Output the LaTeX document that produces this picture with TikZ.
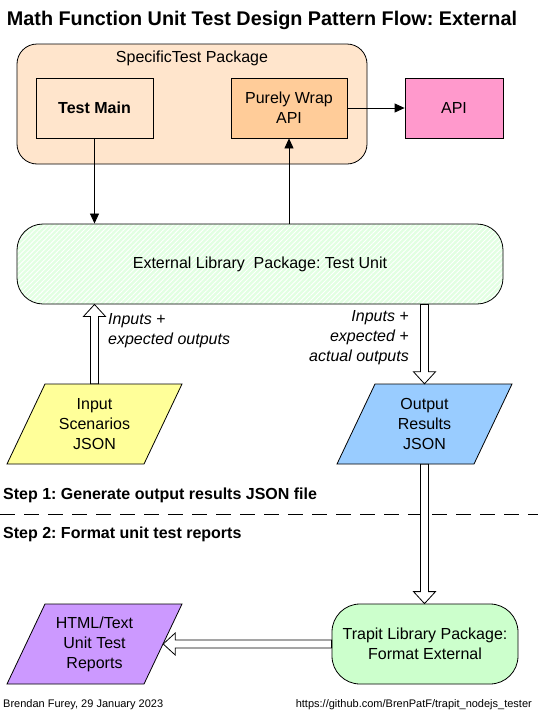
\documentclass[tikz,border=0pt]{standalone}
\usepackage{fontspec}
\setmainfont{Liberation Sans}
\usepackage{tikz}
\usetikzlibrary{calc}
\usetikzlibrary{arrows.meta}
\usetikzlibrary{patterns.meta}
\frenchspacing

\definecolor{peach}{HTML}{FFE5CC}
\definecolor{wraporange}{HTML}{FFCC99}
\definecolor{apipink}{HTML}{FF99CC}
\definecolor{hatchgreen}{HTML}{E2FFE2}
\definecolor{jsonyellow}{HTML}{FFFF99}
\definecolor{jsonblue}{HTML}{99CCFF}
\definecolor{trapgreen}{HTML}{CCFFCC}
\definecolor{replilac}{HTML}{CC99FF}

\tikzset{
  boxtxt/.style={font=\fontsize{16}{20}\selectfont, align=center},
  sqbox/.style={boxtxt, draw, line width=0.8pt, minimum height=60pt, inner sep=0pt},
  roundbox/.style={boxtxt, draw, line width=0.8pt, minimum height=80pt, inner sep=0pt},
  paranode/.style={boxtxt, minimum width=137pt, minimum height=80pt, inner sep=0pt},
  paraline/.style={line width=0.8pt},
  lbltxt/.style={font=\itshape\fontsize{16}{20}\selectfont, inner sep=0pt},
  steptxt/.style={font=\bfseries\fontsize{16}{20}\selectfont, inner sep=0pt},
  foottxt/.style={font=\fontsize{11}{13}\selectfont, inner sep=0pt},
  thinarr/.style={line width=0.8pt, -{Triangle[length=10pt,width=9pt]}},
  fatline/.style={draw=black, fill=white, line width=0.8pt}
}

% hollow arrow from #1 to #2
\newcommand\fatarrow[2]{%
  \coordinate (fa-a) at (#1);
  \coordinate (fa-b) at (#2);
  \coordinate (fa-h) at ($(fa-b)!12pt!(fa-a)$);
  \filldraw[fatline] ($(fa-a)!4pt!90:(fa-b)$) -- ($(fa-h)!4pt!90:(fa-b)$)
     -- ($(fa-h)!11pt!90:(fa-b)$) -- (fa-b) -- ($(fa-h)!11pt!-90:(fa-b)$)
     -- ($(fa-h)!4pt!-90:(fa-b)$) -- ($(fa-a)!4pt!-90:(fa-b)$) -- cycle;}

\begin{document}
\begin{tikzpicture}[x=1pt,y=-1pt]
	\useasboundingbox[fill=white] (0,0) rectangle (538,715);

	\node[anchor=base, inner sep=0pt, font=\bfseries\fontsize{19.8}{23}\selectfont] (title) at (262,25)
		{Math Function Unit Test Design Pattern Flow: External};

	% step 1
	\node[roundbox, fill=peach, minimum width=350pt, minimum height=120pt, rounded corners=20pt] (pkg) at (192,104) {};
	\node[boxtxt, anchor=base, inner sep=0pt] (pkglbl) at (192,62) {SpecificTest Package};
	\node[sqbox, fill=peach, minimum width=117pt] (main) at (94.5,108) {\bfseries Test Main};
	\node[sqbox, fill=wraporange, minimum width=116pt] (wrap) at (289,108) {Purely Wrap\\API};
	\node[sqbox, fill=apipink, minimum width=98pt] (api) at (454,108) {API};

	\node[roundbox, minimum width=486pt, rounded corners=26pt, preaction={fill=hatchgreen},
		pattern={Lines[angle=45,distance=3.5pt,line width=0.9pt]}, pattern color=white] (ext) at (260,264)
		{External Library\ \ Package: Test Unit};

	\filldraw[paraline, fill=jsonyellow] (45,384) -- (182,384) -- (144,464) -- (7,464) -- cycle;
	\node[paranode] (inp) at (94.5,424) {Input\\Scenarios\\JSON};
	\filldraw[paraline, fill=jsonblue] (375,384) -- (512,384) -- (474,464) -- (337,464) -- cycle;
	\node[paranode] (out) at (424.5,424) {Output\\Results\\JSON};

	\draw[thinarr] (main.south) -- (main.south |- ext.north);
	\draw[thinarr] (wrap.south |- ext.north) -- (wrap.south);
	\draw[thinarr] (wrap.east) -- (api.west);

	\fatarrow{inp.north}{inp.north |- ext.south}
	\fatarrow{out.north |- ext.south}{out.north}

	\node[lbltxt, anchor=north west, align=left] (inlbl) at (108,313.5) {Inputs +\\expected outputs};
	\node[lbltxt, anchor=north east, align=right] (outlbl) at (409,310.5) {Inputs +\\expected +\\actual outputs};

	\node[steptxt, anchor=base west] (step1) at (3,499) {Step 1: Generate output results JSON file};
	\draw[line width=0.8pt, dash pattern=on 15pt off 9pt] (0,514) -- (538,514);
	\node[steptxt, anchor=base west] (step2) at (3,538) {Step 2: Format unit test reports};

	% step 2
	\filldraw[paraline, fill=replilac] (45,604) -- (182,604) -- (144,684) -- (7,684) -- cycle;
	\node[paranode] (rep) at (94.5,644) {HTML/Text\\Unit Test\\Reports};
	\node[roundbox, fill=trapgreen, minimum width=186pt, rounded corners=28pt] (trap) at (425,644)
		{Trapit Library Package:\\Format External};

	\fatarrow{out.south}{out.south |- trap.north}
	\fatarrow{trap.west}{rep.east}

	\node[foottxt, anchor=base west] (author) at (3,707) {Brendan Furey, 29 January 2023};
	\node[foottxt, anchor=base east] (url) at (532,707) {https://github.com/BrenPatF/trapit\_nodejs\_tester};
\end{tikzpicture}
\end{document}
